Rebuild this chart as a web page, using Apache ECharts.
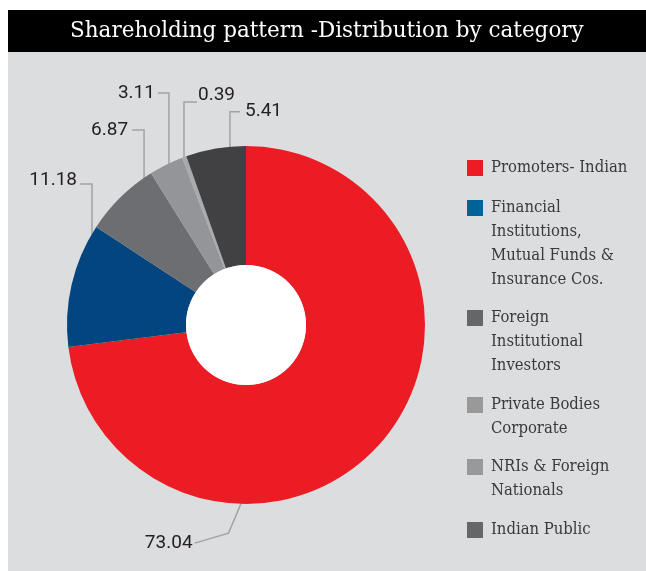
<!DOCTYPE html>
<html>
<head>
<meta charset="utf-8">
<script src="https://cdn.jsdelivr.net/npm/echarts@6/dist/echarts.min.js"></script>
<style>
  html, body { margin: 0; padding: 0; background: #ffffff; }
  #chart { width: 646px; height: 571px; }
</style>
</head>
<body>
<div id="chart"></div>
<script>
// Shareholding categories and their percentage share
const categories = [
  'Promoters- Indian',
  'Financial Institutions, Mutual Funds & Insurance Cos.',
  'Foreign Institutional Investors',
  'Private Bodies Corporate',
  'NRIs & Foreign Nationals',
  'Indian Public'
];
const shares = [73.04, 11.18, 6.87, 3.11, 0.39, 5.41];

// Legend wording, broken into lines
const legendLines = [
  ['Promoters- Indian'],
  ['Financial', 'Institutions,', 'Mutual Funds &', 'Insurance Cos.'],
  ['Foreign', 'Institutional', 'Investors'],
  ['Private Bodies', 'Corporate'],
  ['NRIs & Foreign', 'Nationals'],
  ['Indian Public']
];

// Colours
const sliceColors = ['#ec1c24', '#03467f', '#6d6e71', '#939598', '#a8aaad', '#414042'];
const legendColors = ['#ec1c24', '#00629b', '#666666', '#999999', '#999999', '#666666'];

// Ring geometry (px)
const CX = 246, CY = 325, R_OUT = 179, R_IN = 60;

// Leader line styling: where on the slice the line starts (fraction through
// the slice, fraction of outer radius), then the elbow and tail offsets.
const leaders = [
  { at: 0.69,  r: 0.99,  elbow: [-13, 31], tail: [-34, 10], gap: 2, dy: 0 },
  { at: 0.759, r: 0.938, elbow: [0, -74],  tail: [-12, 0],  gap: 3, dy: -4 },
  { at: 0.684, r: 0.888, elbow: [0, -73],  tail: [-12, 0],  gap: 4, dy: 0 },
  { at: 0.543, r: 0.982, elbow: [0, -74],  tail: [-11, 0],  gap: 3, dy: 0 },
  { at: 0.36,  r: 0.995, elbow: [0, -56],  tail: [13, 0],   gap: 1, dy: -7 },
  { at: 0.736, r: 1.0,   elbow: [0, -35],  tail: [10, 0],   gap: 5, dy: 0 }
];

// Legend swatch centres (px) and line spacing
const legendIconY = [168, 208, 318, 405, 467, 530];
const LEGEND_LH = 24;

const SERIF = '"DejaVu Serif", serif';
const SERIF_NARROW = '"DejaVu Serif Condensed", "DejaVu Serif", serif';

const total = shares.reduce((a, b) => a + b, 0);

function leaderLayout(p) {
  const i = p.dataIndex;
  const L = leaders[i];
  let before = 0;
  for (let k = 0; k < i; k++) before += shares[k];
  const ang = (before + shares[i] * L.at) / total * Math.PI * 2;
  const r = R_OUT * L.r;
  const sx = CX + r * Math.sin(ang);
  const sy = CY - r * Math.cos(ang);
  const ex = sx + L.elbow[0], ey = sy + L.elbow[1];
  const tx = ex + L.tail[0], ty = ey + L.tail[1];
  const toRight = L.tail[0] > 0;
  return {
    x: tx + (toRight ? L.gap : -L.gap),
    y: ty + L.dy,
    align: toRight ? 'left' : 'right',
    verticalAlign: 'middle',
    labelLinePoints: [[sx, sy], [ex, ey], [tx, ty]]
  };
}

const chart = echarts.init(document.getElementById('chart'), null, { renderer: 'canvas' });

chart.setOption({
  animation: false,
  backgroundColor: '#ffffff',
  graphic: [
    { type: 'rect', left: 8, top: 52, silent: true, z: 0,
      shape: { width: 638, height: 519 }, style: { fill: '#dcdddf' } },
    { type: 'rect', left: 8, top: 10, silent: true, z: 0,
      shape: { width: 638, height: 42 }, style: { fill: '#000000' } }
  ],
  title: {
    text: 'Shareholding pattern -Distribution by category',
    left: 70,
    top: 20,
    padding: 0,
    textStyle: { color: '#ffffff', fontFamily: SERIF, fontSize: 21.5, fontWeight: 'normal' }
  },
  legend: categories.map((name, i) => ({
    data: [{ name: name, itemStyle: { color: legendColors[i] } }],
    orient: 'vertical',
    left: 467,
    top: legendIconY[i] - (2 * legendLines[i].length - 1) * LEGEND_LH / 2,
    padding: 0,
    icon: 'rect',
    itemWidth: 16,
    itemHeight: 16,
    selectedMode: false,
    formatter: () => '\n'.repeat(legendLines[i].length - 1) + legendLines[i].join('\n'),
    textStyle: { fontFamily: SERIF_NARROW, fontSize: 16.5, lineHeight: LEGEND_LH, color: '#3a3a3a', padding: [0, 0, 0, 3] }
  })),
  series: [
    {
      type: 'pie',
      center: [CX, CY],
      radius: [R_IN, R_OUT],
      startAngle: 90,
      clockwise: true,
      avoidLabelOverlap: false,
      emphasis: { disabled: true },
      itemStyle: { borderWidth: 0 },
      label: {
        show: true,
        position: 'outside',
        formatter: (p) => shares[p.dataIndex].toFixed(2),
        fontFamily: 'Roboto, sans-serif',
        fontSize: 19,
        color: '#231f20'
      },
      labelLine: { show: true, lineStyle: { color: '#a3a3a3', width: 1.5 } },
      labelLayout: leaderLayout,
      data: categories.map((name, i) => ({
        name: name,
        value: shares[i],
        itemStyle: { color: sliceColors[i] }
      }))
    },
    {
      type: 'pie',
      center: [CX, CY],
      radius: [0, R_IN],
      silent: true,
      label: { show: false },
      labelLine: { show: false },
      emphasis: { disabled: true },
      data: [{ name: '', value: 1, itemStyle: { color: '#ffffff' } }]
    }
  ]
});
</script>
</body>
</html>
